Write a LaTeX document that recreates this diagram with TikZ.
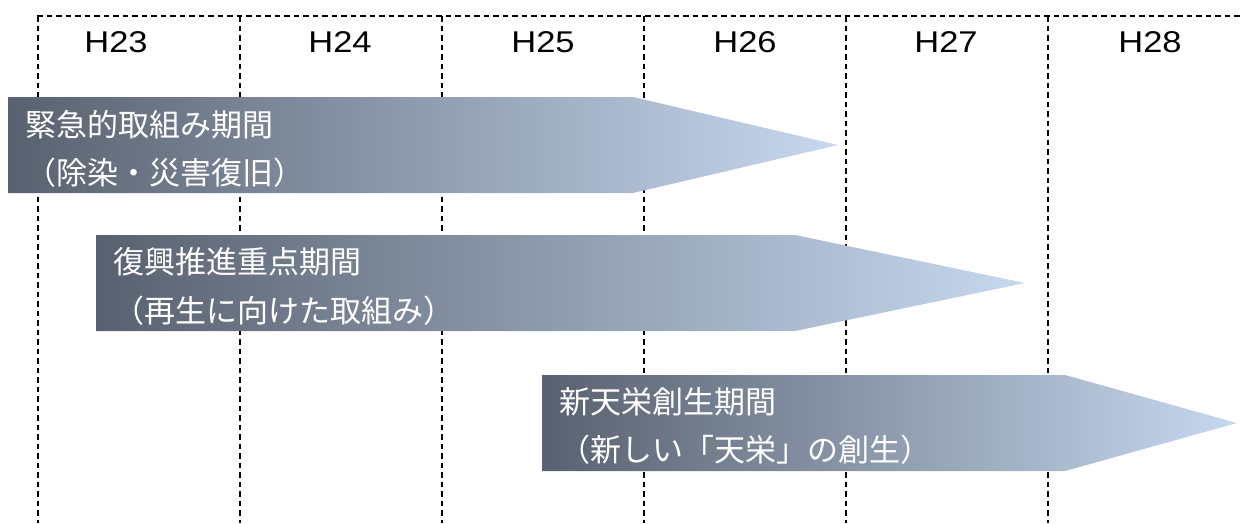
\documentclass[tikz,border=0pt]{standalone}
\usepackage{fontspec}
\setmainfont{Liberation Sans}[FakeStretch=1.15]
\newfontfamily\jp{Noto Sans CJK JP}
\definecolor{darkend}{RGB}{88,97,111}
\definecolor{lightend}{RGB}{199,216,239}
\begin{document}
\begin{tikzpicture}[x=1pt,y=-1pt,
  grid/.style={line width=2.4pt, dash pattern=on 5.5pt off 4pt},
  yearlabel/.style={font=\fontsize{30}{30}\selectfont, inner sep=0pt},
  barshade/.style={left color=darkend, right color=lightend, draw=none},
  bartext/.style={font=\jp\fontsize{31}{31}\selectfont, text=white, anchor=west, inner sep=0pt}]
\useasboundingbox (0,0) rectangle (1242,523);
% grid
\coordinate (t0) at (37,16);
\coordinate (tr) at (1242,16);
\draw[grid] (t0) -- (tr);
\foreach \x [count=\i] in {38,240,442,644,846,1048}{
  \coordinate (vt\i) at (\x,16);
  \coordinate (vb\i) at (\x,523);
  \draw[grid] (vt\i) -- (vb\i);
}
% year labels
\node[yearlabel] (h23) at (116,42) {H23};
\node[yearlabel] (h24) at (340,42) {H24};
\node[yearlabel] (h25) at (543,42) {H25};
\node[yearlabel] (h26) at (745,42) {H26};
\node[yearlabel] (h27) at (946,42) {H27};
\node[yearlabel] (h28) at (1150,42) {H28};
% arrows
\shade[barshade] (8,97) -- (633,97) -- (838,145) -- (633,193) -- (8,193) -- cycle;
\shade[barshade] (96,235) -- (795,235) -- (1025,283) -- (795,331) -- (96,331) -- cycle;
\shade[barshade] (542,375) -- (1065,375) -- (1237,423) -- (1065,471) -- (542,471) -- cycle;
% texts
\node[bartext] (a1) at (25,125) {緊急的取組み期間};
\node[bartext] (a2) at (25,173) {（除染・災害復旧）};
\node[bartext] (b1) at (113,262) {復興推進重点期間};
\node[bartext] (b2) at (113,311) {（再生に向けた取組み）};
\node[bartext] (c1) at (559,402) {新天栄創生期間};
\node[bartext] (c2) at (559,450) {（新しい「天栄」の創生）};
\end{tikzpicture}
\end{document}
